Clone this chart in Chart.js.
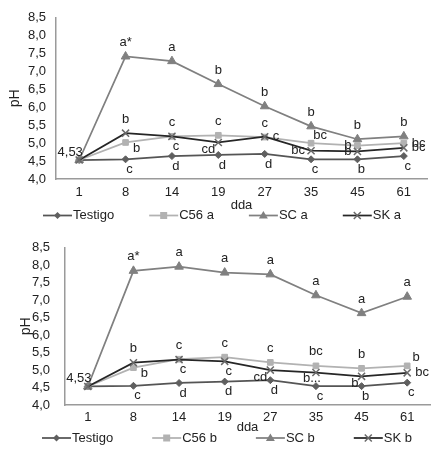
<!DOCTYPE html>
<html>
<head>
<meta charset="utf-8">
<script src="https://cdn.jsdelivr.net/npm/chart.js@4.4.0/dist/chart.umd.min.js"></script>
<style>
  body { margin: 0; background: #fff; }
  .panel { position: absolute; left: 0; width: 439px; height: 225px; }
</style>
</head>
<body>
<div class="panel" style="top:0"><canvas id="chartA" width="439" height="225"></canvas></div>
<div class="panel" style="top:225px"><canvas id="chartB" width="439" height="225"></canvas></div>
<script>
// Days after application
const days = ['1', '8', '14', '19', '27', '35', '45', '61'];
const yTicksMin = 4.0;
const yTicksMax = 8.5;

// Panel a
const testigoA = [4.53, 4.55, 4.64, 4.67, 4.70, 4.55, 4.55, 4.64];
const c56A     = [4.53, 5.02, 5.19, 5.22, 5.17, 5.00, 4.93, 5.00];
const scA      = [4.53, 7.42, 7.29, 6.65, 6.03, 5.47, 5.11, 5.19];
const skA      = [4.53, 5.28, 5.19, 5.02, 5.18, 4.79, 4.77, 4.87];

// Panel b
const testigoB = [4.53, 4.55, 4.63, 4.67, 4.71, 4.54, 4.54, 4.64];
const c56B     = [4.53, 5.07, 5.31, 5.37, 5.22, 5.12, 5.05, 5.12];
const scB      = [4.53, 7.84, 7.96, 7.79, 7.74, 7.14, 6.63, 7.10];
const skB      = [4.53, 5.21, 5.30, 5.25, 5.00, 4.93, 4.82, 4.92];

// Significance letters
const testigoLettersA = ['4,53', 'c', 'd', 'd', 'd', 'c', 'b', 'c'];
const c56LettersA     = ['', 'b', 'c', 'c', 'c', 'bc', 'b', 'bc'];
const scLettersA      = ['', 'a*', 'a', 'b', 'b', 'b', 'b', 'b'];
const skLettersA      = ['', 'b', 'c', 'cd', 'c', 'bc', 'b', 'bc'];

const testigoLettersB = ['4,53', 'c', 'd', 'd', 'd', 'c', 'b', 'c'];
const c56LettersB     = ['', 'b', 'c', 'c', 'c', 'bc', 'b', 'b'];
const scLettersB      = ['', 'a*', 'a', 'a', 'a', 'a', 'a', 'a'];
const skLettersB      = ['', 'b', 'c', 'c', 'cd', 'b...', 'b', 'bc'];

// where each letter sits relative to its point
const testigoSpots = ['nw', 's', 's', 's', 's', 's', 's', 's'];
const scSpots      = ['', 'n', 'n', 'n', 'n', 'n', 'n', 'n'];
const c56SpotsA    = ['', 'se', 's', 'n', 'n', 'ne', 'w', 'e'];
const skSpotsA     = ['', 'n', 'n', 'sw', 'e', 'w', 'w', 'e'];
const c56SpotsB    = ['', 'se', 's', 'n', 'n', 'n', 'n', 'ne'];
const skSpotsB     = ['', 'n', 'n', 's', 'sw', 'ss', 'sw', 'e'];

const spots = {
    n:  [0, -14, 'center'],
    s:  [4, 10, 'center'],
    ss: [-4, 6, 'center'],
    e:  [8, 0, 'left'],
    w:  [-6, 0, 'right'],
    ne: [9, -8, 'center'],
    se: [11, 6, 'center'],
    sw: [-3, 7, 'right'],
    nw: [-9, -8, 'center']
};

const FONT = '"Liberation Sans", Arial, sans-serif';
const TEXT = '#222';

const styles = {
    testigo: { line: '#555555', fill: '#5f5f5f', point: 'rectRot', radius: 3.5 },
    c56:     { line: '#b2b2b2', fill: '#b2b2b2', point: 'rect', radius: 4 },
    sc:      { line: '#808080', fill: '#808080', point: 'triangle', radius: 5 },
    sk:      { line: '#262626', fill: '#6a6a6a', point: 'crossRot', radius: 5 }
};

function drawMarker(ctx, kind, x, y, st) {
    ctx.save();
    ctx.fillStyle = st.fill;
    ctx.strokeStyle = st.fill;
    ctx.lineWidth = 1.5;
    ctx.beginPath();
    if (kind === 'rectRot') {
        ctx.moveTo(x, y - 3.5); ctx.lineTo(x + 3.5, y); ctx.lineTo(x, y + 3.5); ctx.lineTo(x - 3.5, y);
        ctx.closePath(); ctx.fill();
    } else if (kind === 'rect') {
        ctx.rect(x - 3.5, y - 3.5, 7, 7); ctx.fill();
    } else if (kind === 'triangle') {
        ctx.moveTo(x, y - 4.5); ctx.lineTo(x + 4.5, y + 3); ctx.lineTo(x - 4.5, y + 3);
        ctx.closePath(); ctx.fill();
    } else {
        ctx.moveTo(x - 3.5, y - 3.5); ctx.lineTo(x + 3.5, y + 3.5);
        ctx.moveTo(x + 3.5, y - 3.5); ctx.lineTo(x - 3.5, y + 3.5);
        ctx.stroke();
    }
    ctx.restore();
}

const letterPlugin = {
    id: 'letters',
    afterDatasetsDraw(chart) {
        const ctx = chart.ctx;
        ctx.save();
        ctx.font = '13px ' + FONT;
        ctx.fillStyle = TEXT;
        ctx.textBaseline = 'middle';
        chart.data.datasets.forEach((ds, i) => {
            const meta = chart.getDatasetMeta(i);
            (ds.letters || []).forEach((txt, j) => {
                if (!txt) return;
                const pt = meta.data[j];
                const [dx, dy, align] = spots[ds.spots[j]];
                ctx.textAlign = align;
                ctx.fillText(txt, pt.x + dx, pt.y + dy);
            });
        });
        ctx.restore();
    }
};

const legendPlugin = {
    id: 'lineLegend',
    afterDraw(chart, args, opts) {
        const ctx = chart.ctx;
        ctx.save();
        ctx.font = '13px ' + FONT;
        ctx.textBaseline = 'middle';
        ctx.textAlign = 'left';
        let x = opts.x;
        const y = opts.y;
        chart.data.datasets.forEach(ds => {
            const st = ds.legendStyle;
            ctx.strokeStyle = st.line;
            ctx.lineWidth = 1.75;
            ctx.beginPath();
            ctx.moveTo(x, y);
            ctx.lineTo(x + 29, y);
            ctx.stroke();
            drawMarker(ctx, st.point, x + 14.5, y, st);
            ctx.fillStyle = TEXT;
            ctx.fillText(ds.label, x + 30, y);
            x += 30 + ctx.measureText(ds.label).width + opts.gap;
        });
        ctx.restore();
    }
};

function series(label, data, st, letters, spotList, order) {
    return {
        label: label,
        data: data,
        borderColor: st.line,
        borderWidth: 1.75,
        pointStyle: st.point,
        pointRadius: st.radius,
        pointBackgroundColor: st.fill,
        pointBorderColor: st.fill,
        pointBorderWidth: st.point === 'crossRot' ? 1.5 : 1,
        tension: 0,
        fill: false,
        order: order,
        letters: letters,
        spots: spotList,
        legendStyle: st
    };
}

function buildChart(id, sets, lay) {
    new Chart(document.getElementById(id), {
        type: 'line',
        data: { labels: days, datasets: sets },
        plugins: [letterPlugin, legendPlugin],
        options: {
            responsive: false,
            animation: false,
            events: [],
            layout: { padding: { left: 0, right: lay.right, top: 14, bottom: 0 } },
            plugins: {
                legend: { display: false },
                tooltip: { enabled: false },
                lineLegend: { x: lay.legendX, y: lay.legendY, gap: lay.legendGap }
            },
            scales: {
                x: {
                    type: 'category',
                    offset: true,
                    grid: { display: false, drawTicks: false },
                    border: { display: true, color: '#9a9a9a', width: 1.5 },
                    ticks: { color: TEXT, font: { family: FONT, size: 13 }, padding: lay.xPad,
                             maxRotation: 0, autoSkip: false },
                    title: { display: true, text: 'dda', color: TEXT, font: { family: FONT, size: 13 },
                             padding: { top: 0, bottom: lay.ddaPad } },
                    afterFit: s => { s.height = lay.xHeight; }
                },
                y: {
                    min: yTicksMin,
                    max: yTicksMax,
                    grid: { display: false, drawTicks: false },
                    border: { display: true, color: '#9a9a9a', width: 1.5 },
                    ticks: {
                        stepSize: 0.5,
                        autoSkip: false,
                        color: TEXT,
                        font: { family: FONT, size: 13 },
                        padding: lay.yPad,
                        callback: v => v.toFixed(1).replace('.', ',')
                    },
                    title: { display: true, text: 'pH', color: TEXT, font: { family: FONT, size: 14 },
                             padding: { top: lay.phPad, bottom: 0 } },
                    afterFit: s => { s.width = lay.yWidth; }
                }
            }
        }
    });
}

buildChart('chartA', [
    series('Testigo', testigoA, styles.testigo, testigoLettersA, testigoSpots, 3),
    series('C56 a', c56A, styles.c56, c56LettersA, c56SpotsA, 2),
    series('SC a', scA, styles.sc, scLettersA, scSpots, 1),
    series('SK a', skA, styles.sk, skLettersA, skSpotsA, 0)
], { right: 12, yWidth: 56, yPad: 10, xHeight: 46, xPad: 6, ddaPad: 12, phPad: 7,
     legendX: 43, legendY: 215.5, legendGap: 35 });

buildChart('chartB', [
    series('Testigo', testigoB, styles.testigo, testigoLettersB, testigoSpots, 3),
    series('C56 b', c56B, styles.c56, c56LettersB, c56SpotsB, 2),
    series('SC b', scB, styles.sc, scLettersB, scSpots, 1),
    series('SK b', skB, styles.sk, skLettersB, skSpotsB, 0)
], { right: 9, yWidth: 65, yPad: 15, xHeight: 45, xPad: 5, ddaPad: 15, phPad: 18,
     legendX: 42, legendY: 213, legendGap: 39 });
</script>
</body>
</html>
